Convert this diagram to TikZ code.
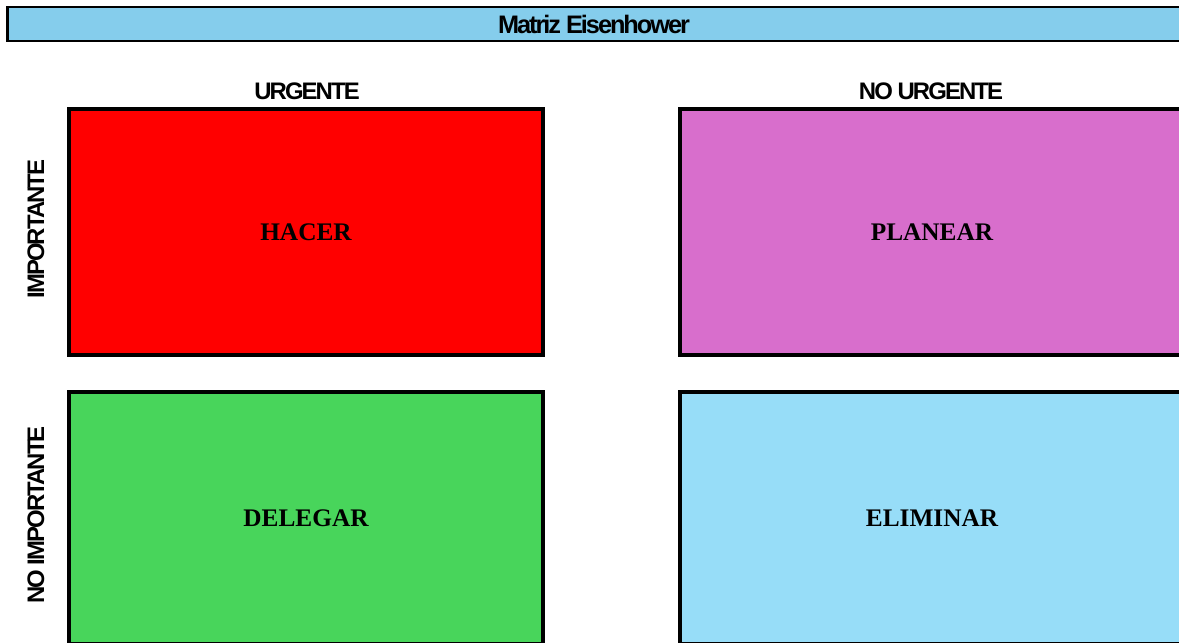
\documentclass[tikz,border=0pt]{standalone}
\usepackage{fontspec}
\setmainfont{Liberation Serif}
\newfontfamily\headfont[LetterSpace=-8]{Liberation Sans}

\definecolor{titlebg}{HTML}{85CDEC}
\definecolor{doit}{HTML}{FF0000}
\definecolor{plan}{HTML}{D86ECC}
\definecolor{delegate}{HTML}{48D55B}
\definecolor{drop}{HTML}{97DDF8}

\begin{document}
\begin{tikzpicture}[x=0.025cm, y=-0.025cm,
  head/.style={font=\headfont\fontsize{17}{19}\selectfont\bfseries},
  quad/.style={draw=black, line width=2.8pt,
    font=\fontsize{18}{21}\selectfont\bfseries}]
  \useasboundingbox (0,0) rectangle (1179,643);
  \node[draw=black, line width=2pt, fill=titlebg, minimum width=29.3cm, minimum height=0.85cm,
    font=\headfont\fontsize{18}{20}\selectfont\bfseries] (title) at (594,24) {Matriz Eisenhower};
  \node[head] (urg) at (307,91) {URGENTE};
  \node[head] (nourg) at (931,91) {NO URGENTE};
  \node[head, rotate=90] (imp) at (36,229) {IMPORTANTE};
  \node[head, rotate=90] (noimp) at (36,515) {NO IMPORTANTE};
  \foreach \name/\x/\y/\w/\h/\col/\txt in {hacer/306/232/11.85/6.15/doit/HACER,
      planear/932/232/12.6/6.15/plan/PLANEAR,
      delegar/306/518/11.85/6.3/delegate/DELEGAR,
      eliminar/932/518/12.6/6.3/drop/ELIMINAR}
    \node[quad, fill=\col, minimum width=\w cm, minimum height=\h cm] (\name) at (\x,\y) {\txt};
\end{tikzpicture}
\end{document}
